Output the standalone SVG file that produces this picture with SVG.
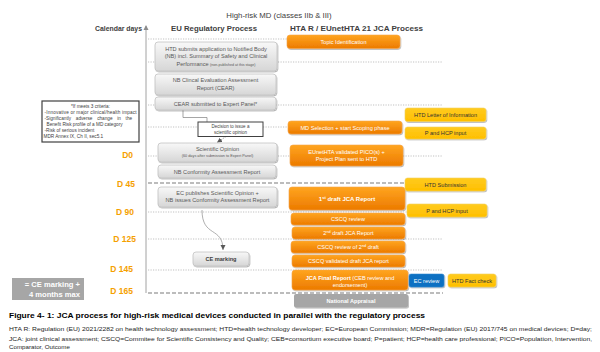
<svg xmlns="http://www.w3.org/2000/svg" width="600" height="352" viewBox="0 0 600 352">
<defs>
<linearGradient id="gg" x1="0" y1="0" x2="0" y2="1"><stop offset="0" stop-color="#f8f8f8"/><stop offset="1" stop-color="#d6d6d6"/></linearGradient>
<linearGradient id="og" x1="0" y1="0" x2="0" y2="1"><stop offset="0" stop-color="#ffa51f"/><stop offset="1" stop-color="#ec7a00"/></linearGradient>
<linearGradient id="yg" x1="0" y1="0" x2="0" y2="1"><stop offset="0" stop-color="#ffcb1f"/><stop offset="1" stop-color="#ffbf00"/></linearGradient>
<filter id="sh" x="-10%" y="-30%" width="125%" height="170%"><feDropShadow dx="0.8" dy="1" stdDeviation="0.7" flood-color="#000" flood-opacity="0.3"/></filter>
<marker id="ar" markerWidth="6" markerHeight="6" refX="5" refY="3" orient="auto" markerUnits="userSpaceOnUse"><path d="M0,0.5 L5,3 L0,5.5 Z" fill="#595959"/></marker>
<marker id="up" markerWidth="6" markerHeight="6" refX="3" refY="1" orient="0" markerUnits="userSpaceOnUse"><path d="M0.5,5 L3,0 L5.5,5 Z" fill="#8c8c8c"/></marker>
</defs>
<style>
text{font-family:"Liberation Sans",Arial,sans-serif}
.g rect{fill:url(#gg);stroke:#c2c2c2;stroke-width:0.8;filter:url(#sh)}
.gt{fill:#595959;font-size:5.6px;text-anchor:middle}
.o rect{fill:url(#og);stroke:#f5a54a;stroke-width:0.6;filter:url(#sh)}
.ot{fill:#fff;font-size:5.6px;text-anchor:middle}
.y rect{fill:url(#yg);stroke:#f2d060;stroke-width:0.6;filter:url(#sh)}
.yt{fill:#333;font-size:5.6px;text-anchor:middle}
.dot{stroke:#a6a6a6;stroke-width:0.7;stroke-dasharray:1.2 1.3;fill:none}
.dash{stroke:#a6a6a6;stroke-width:1.6;stroke-dasharray:4 2;fill:none}
.dl{fill:#f5a000;font-size:8.5px;font-weight:bold;text-anchor:end}
.hd{fill:#404040;font-size:7.5px;font-weight:bold}
.b{font-weight:bold}
</style>

<text x="279" y="18" style="fill:#404040;font-size:7.8px;text-anchor:middle">High-risk MD (classes IIb &amp; III)</text>
<text class="hd" x="95" y="30.5" textLength="47" lengthAdjust="spacingAndGlyphs">Calendar days</text>
<text class="hd" x="171" y="30.5" textLength="86" lengthAdjust="spacingAndGlyphs">EU Regulatory Process</text>
<text class="hd" x="290" y="30.5" textLength="133" lengthAdjust="spacingAndGlyphs">HTA R / EUnetHTA 21 JCA Process</text>

<g id="grid">
<line x1="146" y1="26" x2="146" y2="293" stroke="#8c8c8c" stroke-width="0.8" marker-start="url(#up)"/>
<line class="dot" x1="148" y1="39" x2="288" y2="39"/>
<line class="dot" x1="148" y1="62" x2="443" y2="62"/>
<line class="dot" x1="148" y1="105" x2="443" y2="105"/>
<line class="dot" x1="148" y1="127" x2="290" y2="127"/>
<line class="dot" x1="148" y1="156" x2="443" y2="156"/>
<line class="dash" x1="148" y1="183" x2="443" y2="183"/>
<line class="dot" x1="148" y1="212" x2="443" y2="212"/>
<line class="dot" x1="148" y1="239" x2="443" y2="239"/>
<line class="dot" x1="148" y1="270" x2="443" y2="270"/>
<line class="dash" x1="148" y1="293" x2="443" y2="293"/>
</g>

<g id="days">
<text class="dl" x="133" y="158">D0</text>
<text class="dl" x="135" y="187">D 45</text>
<text class="dl" x="134" y="215">D 90</text>
<text class="dl" x="136" y="241.5">D 125</text>
<text class="dl" x="133" y="272">D 145</text>
<text class="dl" x="133" y="294">D 165</text>
</g>

<g id="criteria">
<rect x="42" y="101" width="97" height="41" fill="#fff" stroke="#404040" stroke-width="1.2"/>
<g style="fill:#404040;font-size:4.7px">
<text x="90.5" y="107.5" text-anchor="middle">*If meets 3 criteria:</text>
<text x="44.5" y="113.5" textLength="92" lengthAdjust="spacing">-Innovative or major clinical/health impact</text>
<text x="44.5" y="119.5" style="word-spacing:3.4px">-Significantly adverse change in the</text>
<text x="46.5" y="125.5">Benefit Risk profile of a MD category</text>
<text x="44.5" y="131.5">-Risk of serious incident</text>
<text x="43.5" y="137.5">MDR Annex IX, Ch II, sec5.1</text>
</g>
</g>

<g id="ce-max">
<rect x="12" y="278" width="72" height="22" fill="#a6a6a6"/>
<text x="80" y="286.5" style="fill:#fff;font-size:7.6px;font-weight:bold;text-anchor:end">= CE marking +</text>
<text x="80" y="296.5" style="fill:#fff;font-size:7.6px;font-weight:bold;text-anchor:end">4 months max</text>
</g>

<g id="connectors" fill="none">
<polyline points="183,110 183,117.5 207,117.5 207,122" stroke="#7f7f7f" stroke-width="0.7"/>
<line x1="226" y1="136.5" x2="217" y2="142.5" stroke="#7f7f7f" stroke-width="0.7" stroke-dasharray="1.5 1" marker-end="url(#ar)"/>
<path d="M202,210 C202,238 223,226 223,250" stroke="#8c8c8c" stroke-width="0.7" marker-end="url(#ar)"/>
</g>

<g id="eu-htd-submits" class="g">
<rect x="155" y="42" width="122" height="29" rx="3"/>
<text class="gt" x="216" y="50.5">HTD submits application to Notified Body</text>
<text class="gt" x="216" y="58">(NB) incl. Summary of Safety and Clinical</text>
<text class="gt" x="216" y="65.5">Performance <tspan style="font-size:3.6px">(non-published at this stage)</tspan></text>
</g>
<g id="eu-cear" class="g">
<rect x="155" y="74" width="121" height="21" rx="3"/>
<text class="gt" x="215.5" y="82">NB Clincal Evaluation Assessment</text>
<text class="gt" x="215.5" y="90">Report (CEAR)</text>
</g>
<g id="eu-cear-panel" class="g">
<rect x="155" y="97" width="121" height="13" rx="3"/>
<text class="gt" x="215.5" y="105.5">CEAR submitted to Expert Panel*</text>
</g>
<g id="eu-decision">
<rect x="198" y="122" width="65" height="14.5" fill="#fff" stroke="#404040" stroke-width="1"/>
<text x="230.5" y="128.3" style="fill:#404040;font-size:4.5px;text-anchor:middle">Decision to issue a</text>
<text x="230.5" y="134.3" style="fill:#404040;font-size:4.5px;text-anchor:middle">scientific opinion</text>
</g>
<g id="eu-sci-opinion" class="g">
<rect x="158" y="143" width="119" height="19" rx="3"/>
<text class="gt" x="217.5" y="151">Scientific Opinion</text>
<text class="gt" x="217.5" y="157" style="font-size:3.8px">(60 days after submission to Expert Panel)</text>
</g>
<g id="eu-nb-conformity" class="g">
<rect x="158" y="165" width="118" height="13" rx="3"/>
<text class="gt" x="217" y="173.5">NB Conformity Assessment Report</text>
</g>
<g id="eu-ec-publishes" class="g">
<rect x="158" y="187" width="119" height="20" rx="3"/>
<text class="gt" x="217.5" y="194.5">EC publishes Scientific Opinion +</text>
<text class="gt" x="217.5" y="202">NB issues Conformity Assessment Report</text>
</g>
<g id="eu-ce-marking" class="g">
<rect x="193" y="252" width="56" height="14" rx="3"/>
<text class="gt b" x="221" y="261.2" style="fill:#404040">CE marking</text>
</g>

<g id="hta-topic" class="o">
<rect x="287" y="35" width="113" height="13.5" rx="3"/>
<text class="ot" x="343.5" y="43.8">Topic Identification</text>
</g>
<g id="hta-md-selection" class="o">
<rect x="288" y="121" width="114" height="13" rx="3"/>
<text class="ot" x="345" y="129.5">MD Selection + start Scoping phase</text>
</g>
<g id="hta-pico" class="o">
<rect x="290" y="145" width="113" height="21" rx="3"/>
<text class="ot" x="346.5" y="154">EUnetHTA validated PICO(s) +</text>
<text class="ot" x="346.5" y="161">Project Plan sent to HTD</text>
</g>
<g id="hta-1st-draft" class="o">
<rect x="289" y="187" width="116" height="23" rx="3"/>
<text class="ot b" x="347" y="200.5" style="font-size:6px">1<tspan dy="-2" style="font-size:4px">st</tspan><tspan dy="2"> draft JCA Report</tspan></text>
</g>
<g id="hta-cscq-review" class="o">
<rect x="291" y="213" width="114" height="12" rx="3"/>
<text class="ot" x="348" y="221">CSCQ review</text>
</g>
<g id="hta-2nd-draft" class="o">
<rect x="292" y="227" width="113" height="12" rx="3"/>
<text class="ot" x="348.5" y="235">2<tspan dy="-2" style="font-size:3.8px">nd</tspan><tspan dy="2"> draft JCA Report</tspan></text>
</g>
<g id="hta-cscq-2nd" class="o">
<rect x="291" y="241" width="114" height="12" rx="3"/>
<text class="ot" x="348" y="249">CSCQ review of 2<tspan dy="-2" style="font-size:3.8px">nd</tspan><tspan dy="2"> draft</tspan></text>
</g>
<g id="hta-cscq-validated" class="o">
<rect x="292" y="255" width="113" height="12" rx="3"/>
<text class="ot" x="348.5" y="263">CSCQ validated draft JCA  report</text>
</g>
<g id="hta-final" class="o">
<rect x="292" y="270" width="116" height="20" rx="3"/>
<text class="ot" x="350" y="279.5"><tspan class="b">JCA Final Report</tspan> (CEB review and</text>
<text class="ot" x="350" y="287">endorsement)</text>
</g>
<g id="hta-national">
<rect x="294" y="294" width="114" height="13.5" rx="2" fill="#a6a6a6" filter="url(#sh)"/>
<text x="351" y="303" style="fill:#fff;font-size:5.6px;font-weight:bold;text-anchor:middle">National Appraisal</text>
</g>

<g id="y-letter" class="y">
<rect x="405" y="108" width="81" height="13.5" rx="2.5"/>
<text class="yt" x="445.5" y="116.8">HTD Letter of Information</text>
</g>
<g id="y-phcp1" class="y">
<rect x="405" y="127" width="81" height="12" rx="2.5"/>
<text class="yt" x="445.5" y="135">P and HCP  input</text>
</g>
<g id="y-submission" class="y">
<rect x="405" y="178" width="81" height="13" rx="2.5"/>
<text class="yt" x="445.5" y="186.5">HTD Submission</text>
</g>
<g id="y-phcp2" class="y">
<rect x="407" y="204" width="80" height="13" rx="2.5"/>
<text class="yt" x="447" y="212.5">P and HCP  input</text>
</g>
<g id="ec-review">
<rect x="409" y="274" width="35" height="13" rx="2" fill="#0a6fc2" stroke="#3a8ad0" stroke-width="0.6" filter="url(#sh)"/>
<text x="426.5" y="282.5" style="fill:#fff;font-size:5.6px;text-anchor:middle">EC review</text>
</g>
<g id="y-factcheck" class="y">
<rect x="448" y="274" width="48" height="13" rx="2.5"/>
<text class="yt" x="472" y="282.5">HTD Fact check</text>
</g>

<text x="9" y="317.5" style="fill:#000;font-size:8px;font-weight:bold" textLength="416" lengthAdjust="spacingAndGlyphs">Figure 4- 1: JCA process for high-risk medical devices conducted in parallel with the regulatory process</text>
<g style="fill:#262626;font-size:6.2px">
<text x="9" y="331" textLength="583" lengthAdjust="spacingAndGlyphs">HTA R: Regulation (EU) 2021/2282 on health technology assessment; HTD=health technology developer; EC=European Commission; MDR=Regulation (EU) 2017/745 on medical devices; D=day;</text>
<text x="9" y="340.5" textLength="583" lengthAdjust="spacingAndGlyphs">JCA: joint clinical assessment; CSCQ=Commitee for Scientific Consistency and Quality; CEB=consortium executive board; P=patient; HCP=health care professional; PICO=Population, Intervention,</text>
<text x="9" y="349">Comparator, Outcome</text>
</g>
</svg>
